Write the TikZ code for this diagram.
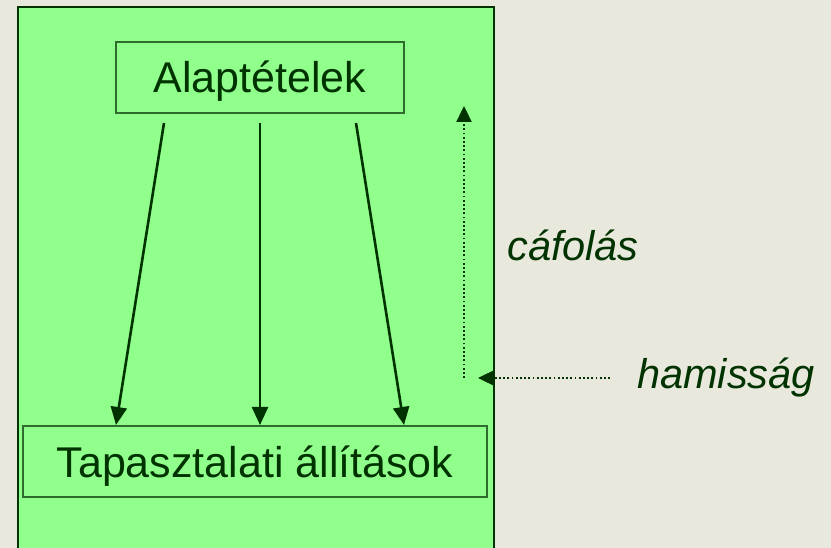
\documentclass[tikz,border=0pt]{standalone}
\usepackage{fontspec}
\setmainfont{Liberation Sans}
\usetikzlibrary{arrows.meta,calc}
\definecolor{bgc}{HTML}{E8E8DC}
\definecolor{gfill}{HTML}{90FF8C}
\definecolor{dkg}{HTML}{003300}
\definecolor{boxline}{HTML}{2E6B2E}
\begin{document}
\begin{tikzpicture}[x=1pt,y=-1pt,
  lbl/.style={font=\fontsize{43}{47}\selectfont, text=dkg},
  ilbl/.style={font=\fontsize{41.5}{45}\selectfont\itshape, text=dkg},
  stmt/.style={draw=boxline, line width=2pt, fill=gfill, minimum height=71pt, inner sep=0pt, text height=40pt, text depth=9pt, lbl},
  solidarr/.style={draw=dkg, line width=2.6pt, -{Triangle[width=16pt,length=18pt]}},
  dotarr/.style={draw=dkg, line width=2.4pt, dash pattern=on 1.8pt off 2.4pt, -{Triangle[width=15pt,length=16pt]}}]
\useasboundingbox (0,0) rectangle (831,548);
\fill[bgc] (0,0) rectangle (831,548);
\begin{scope}
\clip (0,0) rectangle (831,548);
\draw[draw=dkg, line width=2.4pt, fill=gfill] (18,7) rectangle (494,560);
\end{scope}
\node[stmt, minimum width=288pt] (a) at (260,77.5) {Alaptételek};
\node[stmt, minimum width=464pt] (b) at (255,461.5) {Tapasztalati állítások};
\draw[solidarr] ([shift={(-96,9)}]a.south) -- ([xshift=-139]b.north);
\draw[solidarr] ([shift={(0,9)}]a.south) -- ([xshift=5]b.north);
\draw[solidarr] ([shift={(96,9)}]a.south) -- ([xshift=149]b.north);
\coordinate (vbot) at (464,378);
\coordinate (vtop) at (464,106);
\coordinate (hstart) at (610,378);
\coordinate (htip) at (478,378);
\draw[dotarr] (vbot) -- (vtop);
\draw[dotarr] (hstart) -- (htip);
\node[ilbl] (c) at (573,245) {cáfolás};
\node[ilbl] (h) at (726,378) {hamisság};
\end{tikzpicture}
\end{document}
